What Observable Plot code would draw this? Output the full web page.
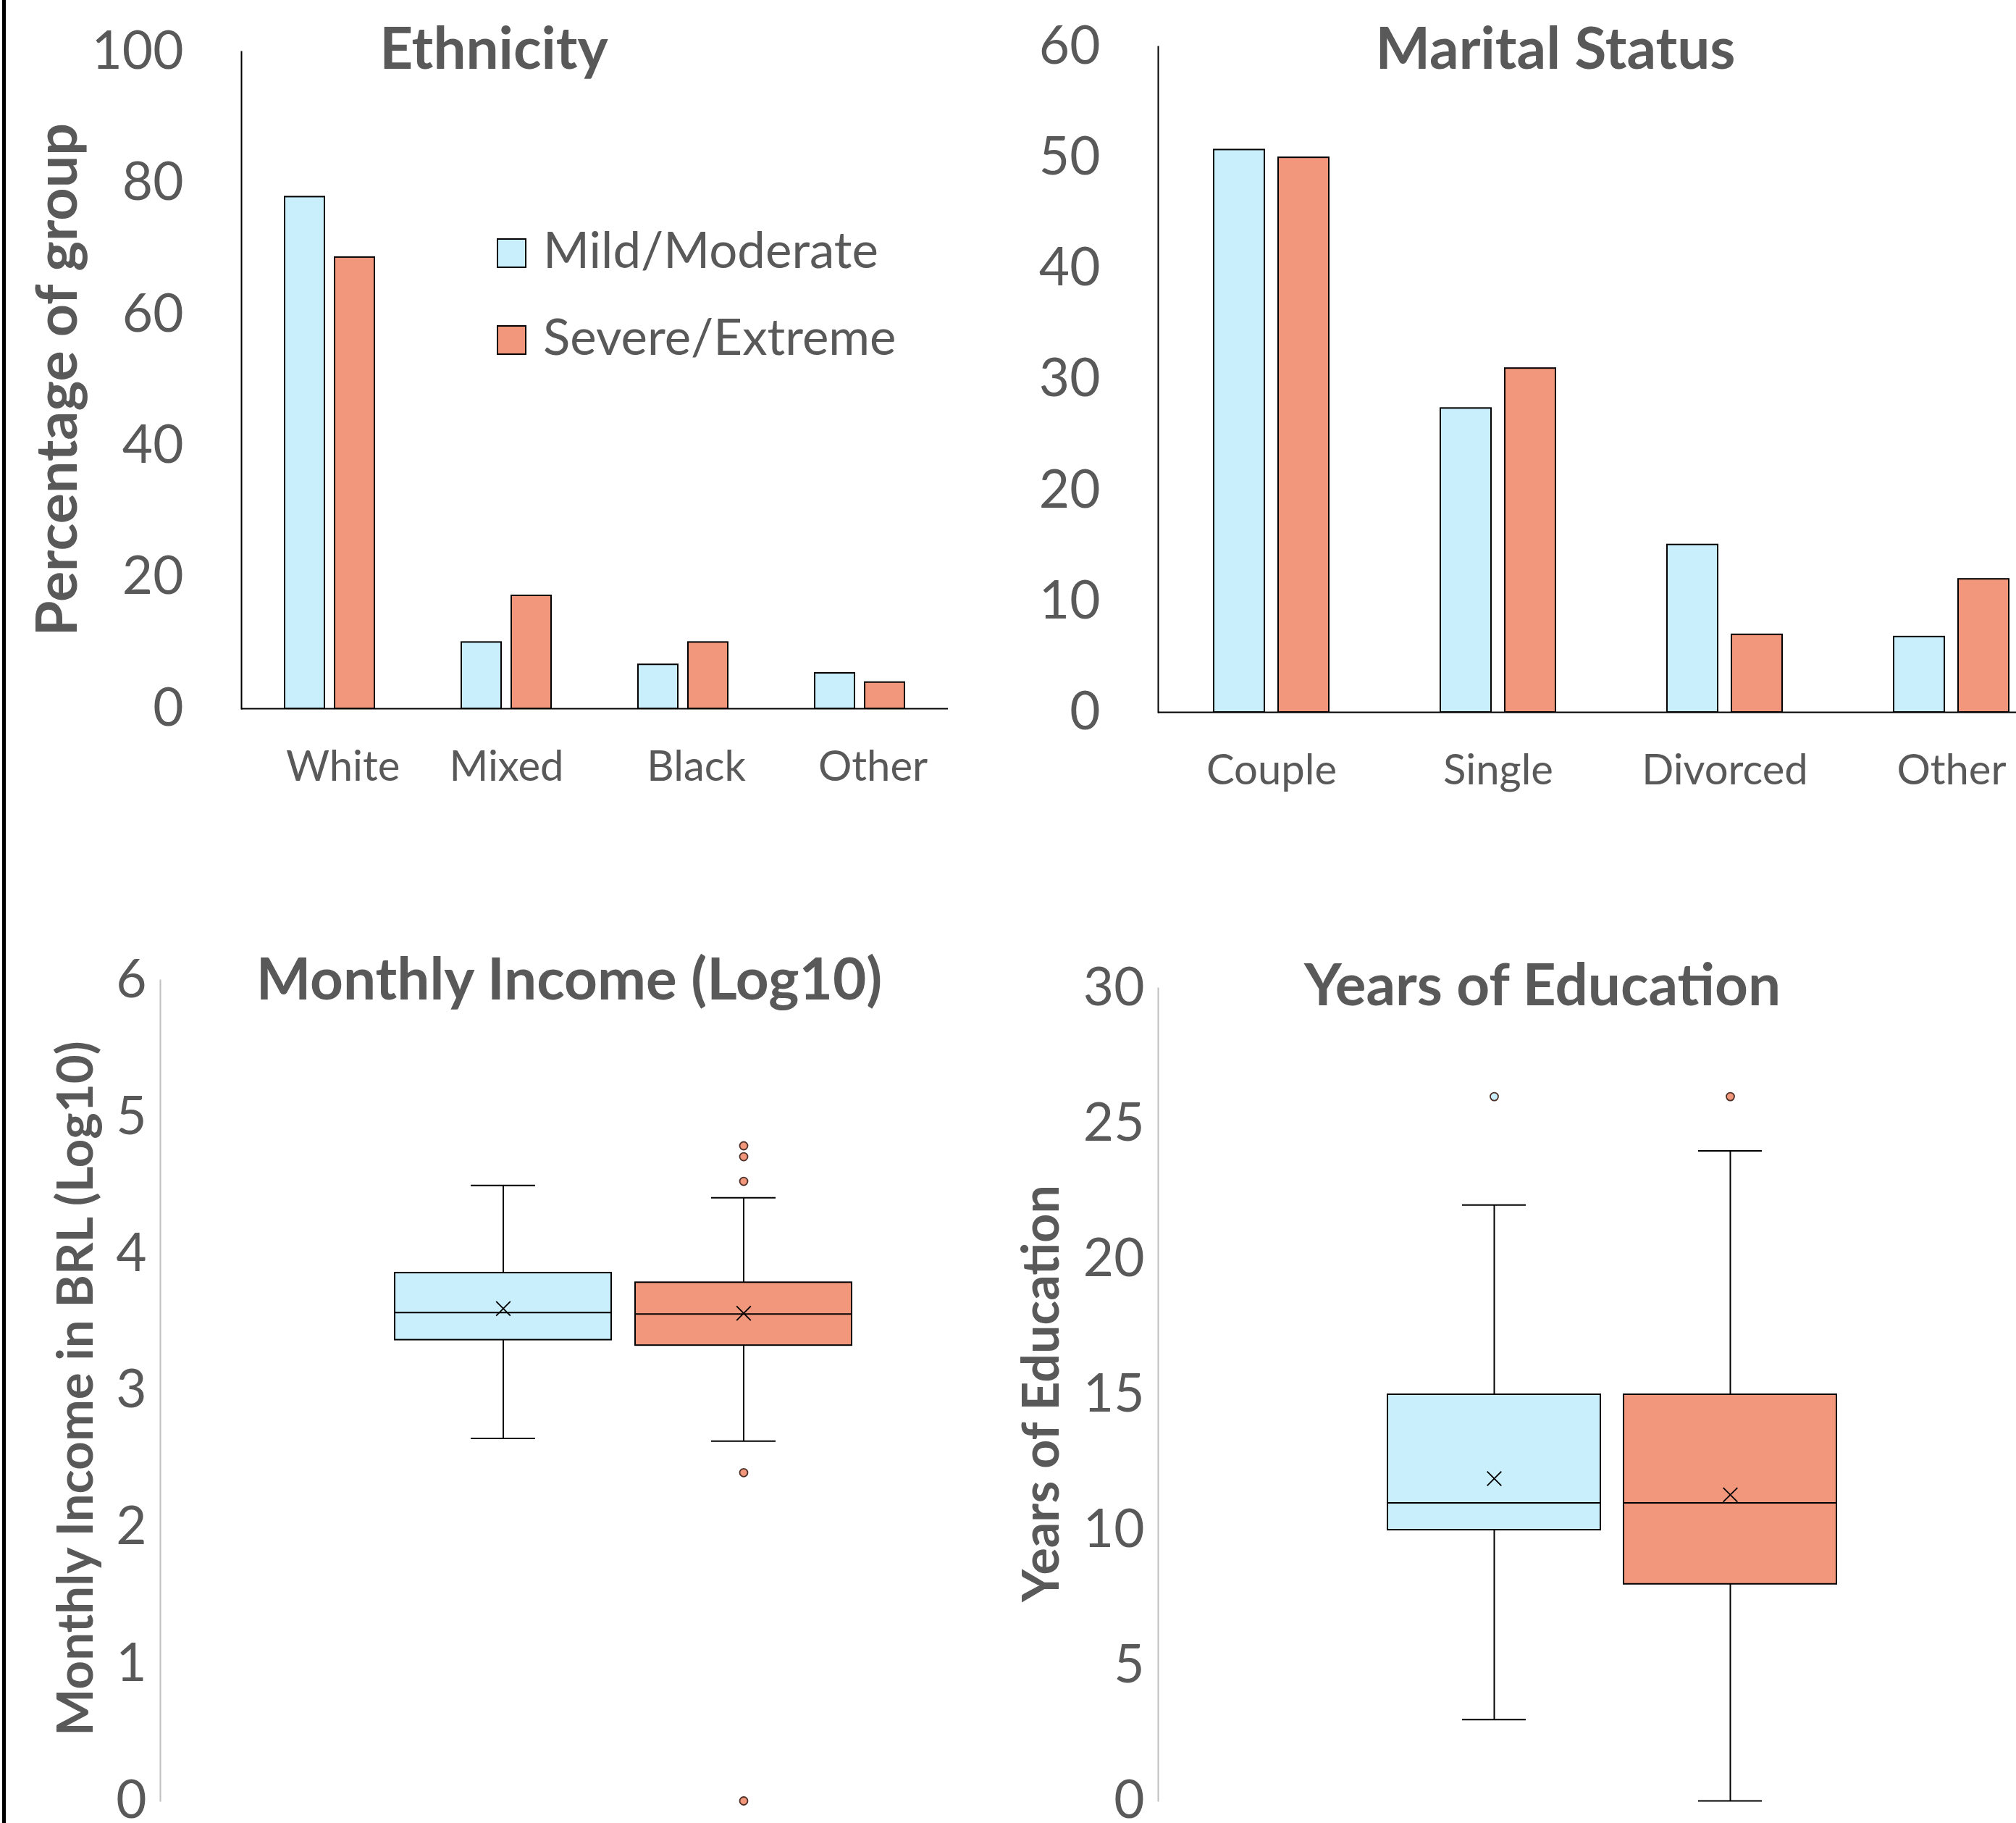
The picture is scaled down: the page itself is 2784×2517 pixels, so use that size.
<!DOCTYPE html>
<html>
<head>
<meta charset="utf-8">
<script src="https://cdn.jsdelivr.net/npm/d3@7"></script>
<script src="https://cdn.jsdelivr.net/npm/@observablehq/plot@0.6"></script>
<style>
html, body { margin: 0; padding: 0; background: #fff; overflow: hidden; }
#root { position: relative; width: 2784px; height: 2517px; overflow: hidden; font-family: Lato, "Open Sans", sans-serif; color: #595959; background: #fff; }
.panel { position: absolute; }
.panel svg { max-width: none !important; }
.txt { position: absolute; white-space: nowrap; line-height: 1; }
.center { transform: translateX(-50%); }
.rot { transform: translate(-50%, -50%) rotate(-90deg); }
.bold { font-weight: bold; }
.swatch { position: absolute; width: 41px; height: 41px; box-sizing: border-box; border: 2px solid #000; }
#border { position: absolute; left: 3px; top: 0; width: 5px; height: 2517px; background: #000; }
</style>
</head>
<body>
<div id="root"><div id="border"></div></div>
<script>
// ---------- data ----------
const groups = ["Mild/Moderate", "Severe/Extreme"];
const groupColors = ["#C9EFFC", "#F2977B"];

const ethnicityCategories = ["White", "Mixed", "Black", "Other"];
const ethnicityMild = [77.9, 10.1, 6.7, 5.4];
const ethnicitySevere = [68.7, 17.2, 10.1, 4.0];
const ethnicityTicks = [0, 20, 40, 60, 80, 100];

const maritalCategories = ["Couple", "Single", "Divorced", "Other"];
const maritalMild = [50.7, 27.4, 15.1, 6.8];
const maritalSevere = [50.0, 31.0, 7.0, 12.0];
const maritalTicks = [0, 10, 20, 30, 40, 50, 60];

// Monthly income (log10) box plot statistics, per group
const incomeMin = [2.65, 2.63];
const incomeQ1 = [3.37, 3.33];
const incomeMedian = [3.57, 3.56];
const incomeQ3 = [3.86, 3.79];
const incomeMax = [4.50, 4.41];
const incomeMean = [3.60, 3.565];
const incomeOutlierGroups = ["Severe/Extreme", "Severe/Extreme", "Severe/Extreme", "Severe/Extreme", "Severe/Extreme"];
const incomeOutliers = [4.79, 4.71, 4.53, 2.40, 0];
const incomeTicks = [0, 1, 2, 3, 4, 5, 6];

// Years of education box plot statistics, per group
const educationMin = [3, 0];
const educationQ1 = [10, 8];
const educationMedian = [11, 11];
const educationQ3 = [15, 15];
const educationMax = [22, 24];
const educationMean = [11.9, 11.3];
const educationOutlierGroups = ["Mild/Moderate", "Severe/Extreme"];
const educationOutliers = [26, 26];
const educationTicks = [0, 5, 10, 15, 20, 25, 30];

// ---------- helpers ----------
const root = document.getElementById("root");
const GRAY = "#595959";
const TICK_FONT = 73;
const CAT_FONT = 58;

function place(el, left, top, w, h) {
  const d = document.createElement("div");
  d.className = "panel";
  d.style.left = left + "px";
  d.style.top = top + "px";
  d.style.width = w + "px";
  d.style.height = h + "px";
  d.appendChild(el);
  root.appendChild(d);
}
function addText(text, {x, baseline, size, bold = false, anchor = "middle"}) {
  const d = document.createElement("div");
  d.className = "txt" + (bold ? " bold" : "") + (anchor === "middle" ? " center" : "");
  d.textContent = text;
  d.style.fontSize = size + "px";
  d.style.left = x + "px";
  d.style.top = (baseline - 0.887 * size) + "px";
  root.appendChild(d);
}
function addRotated(text, {baselineX, cy, size}) {
  const d = document.createElement("div");
  d.className = "txt rot bold";
  d.textContent = text;
  d.style.fontSize = size + "px";
  d.style.left = (baselineX - 0.387 * size) + "px";
  d.style.top = cy + "px";
  root.appendChild(d);
}

function barPanel({cats, mild, severe, ticks, yMax, width, height, mL, mR, mT, mB, pi, po, fmt}) {
  const data = cats.flatMap((c, i) => [
    {cat: c, group: groups[0], value: mild[i]},
    {cat: c, group: groups[1], value: severe[i]}
  ]);
  return Plot.plot({
    width, height,
    marginLeft: mL, marginRight: mR, marginTop: mT, marginBottom: mB,
    style: {fontFamily: "Lato, sans-serif", color: GRAY, background: "transparent", overflow: "visible", maxWidth: "none"},
    fx: {domain: cats, padding: 0, label: null},
    x: {domain: groups, paddingInner: pi, paddingOuter: po, axis: null},
    y: {domain: [0, yMax], label: null},
    color: {domain: groups, range: groupColors},
    marks: [
      Plot.barY(data, {fx: "cat", x: "group", y: "value", fill: "group", stroke: "#000", strokeWidth: 2}),
      Plot.ruleY([0], {stroke: "#000", strokeWidth: 2}),
      Plot.frame({anchor: "left", facetAnchor: "left", stroke: "#000", strokeWidth: 2}),
      Plot.axisY({ticks, tickSize: 0, tickPadding: 80, fontSize: TICK_FONT, label: null, tickFormat: d => String(d)}),
      Plot.axisFx({anchor: "bottom", tickSize: 0, tickPadding: 58, fontSize: CAT_FONT, label: null, tickFormat: fmt})
    ]
  });
}

function boxPanel({mins, q1s, medians, q3s, maxs, means, outGroups, outValues, ticks, yMax, width, height, mL, mR, mT, mB, pi, po, capInset}) {
  const stats = groups.map((g, i) => ({group: g, min: mins[i], q1: q1s[i], median: medians[i], q3: q3s[i], max: maxs[i], mean: means[i]}));
  const outliers = outValues.map((v, i) => ({group: outGroups[i], value: v}));
  return Plot.plot({
    width, height,
    marginLeft: mL, marginRight: mR, marginTop: mT, marginBottom: mB,
    style: {fontFamily: "Lato, sans-serif", color: GRAY, background: "transparent", overflow: "visible", maxWidth: "none"},
    x: {domain: groups, paddingInner: pi, paddingOuter: po, axis: null},
    y: {domain: [0, yMax], label: null},
    color: {domain: groups, range: groupColors},
    marks: [
      Plot.ruleX(stats, {x: "group", y1: "min", y2: "max", stroke: "#000", strokeWidth: 2}),
      Plot.barY(stats, {x: "group", y1: "q1", y2: "q3", fill: "group", stroke: "#000", strokeWidth: 2}),
      Plot.tickY(stats, {x: "group", y: "median", stroke: "#000", strokeWidth: 2}),
      Plot.tickY(stats, {x: "group", y: "min", stroke: "#000", strokeWidth: 2, insetLeft: capInset, insetRight: capInset}),
      Plot.tickY(stats, {x: "group", y: "max", stroke: "#000", strokeWidth: 2, insetLeft: capInset, insetRight: capInset}),
      Plot.dot(stats, {x: "group", y: "mean", symbol: "times", r: 9, stroke: "#000", strokeWidth: 1.8}),
      Plot.dot(outliers, {x: "group", y: "value", r: 5.5, fill: "group", stroke: "#4d3028", strokeWidth: 1.8}),
      Plot.frame({anchor: "left", stroke: "#BFBFBF", strokeWidth: 2}),
      Plot.axisY({ticks, tickSize: 0, tickPadding: 19, fontSize: TICK_FONT, label: null, tickFormat: d => String(d)})
    ]
  });
}

// ---------- panels ----------
place(barPanel({
  cats: ethnicityCategories, mild: ethnicityMild, severe: ethnicitySevere, ticks: ethnicityTicks, yMax: 100,
  width: 1392, height: 1150, mL: 331, mR: 82, mT: 71, mB: 172, pi: 0.2, po: 0.85,
  fmt: d => (d === "Mixed" ? d : "\u2002\u2009" + d)
}), 0, 0, 1392, 1150);

place(barPanel({
  cats: maritalCategories, mild: maritalMild, severe: maritalSevere, ticks: maritalTicks, yMax: 60,
  width: 1460, height: 1150, mL: 207, mR: 1, mT: 64, mB: 167, pi: 0.2135, po: 0.865,
  fmt: d => d
}), 1392, 0, 1460, 1150);

place(boxPanel({
  mins: incomeMin, q1s: incomeQ1, medians: incomeMedian, q3s: incomeQ3, maxs: incomeMax, means: incomeMean,
  outGroups: incomeOutlierGroups, outValues: incomeOutliers, ticks: incomeTicks, yMax: 6,
  width: 1560, height: 1267, mL: 221, mR: 60, mT: 103, mB: 31, pi: 0.099, po: 0.97, capInset: 105
}), 0, 1250, 1560, 1267);

place(boxPanel({
  mins: educationMin, q1s: educationQ1, medians: educationMedian, q3s: educationQ3, maxs: educationMax, means: educationMean,
  outGroups: educationOutlierGroups, outValues: educationOutliers, ticks: educationTicks, yMax: 30,
  width: 1470, height: 1267, mL: 207, mR: 9, mT: 114, mB: 31, pi: 0.098, po: 0.972, capInset: 103
}), 1392, 1250, 1470, 1267);

// ---------- titles, axis titles, legend ----------
addText("Ethnicity", {x: 682, baseline: 95, size: 80, bold: true});
addText("Marital Status", {x: 2148, baseline: 95, size: 80, bold: true});
addText("Monthly Income (Log10)", {x: 786, baseline: 1380, size: 80, bold: true});
addText("Years of Education", {x: 2130, baseline: 1388, size: 80, bold: true});

addRotated("Percentage of group", {baselineX: 106, cy: 524, size: 79});
addRotated("Monthly Income in BRL (Log10)", {baselineX: 128, cy: 1917, size: 69});
addRotated("Years of Education", {baselineX: 1462, cy: 1924, size: 70});

groups.forEach((g, i) => {
  const top = 329 + i * 120;
  const sw = document.createElement("div");
  sw.className = "swatch";
  sw.style.left = "686px";
  sw.style.top = top + "px";
  sw.style.background = groupColors[i];
  root.appendChild(sw);
  addText(g, {x: 750, baseline: top + 41, size: 69, anchor: "start"});
});
</script>
</body>
</html>
